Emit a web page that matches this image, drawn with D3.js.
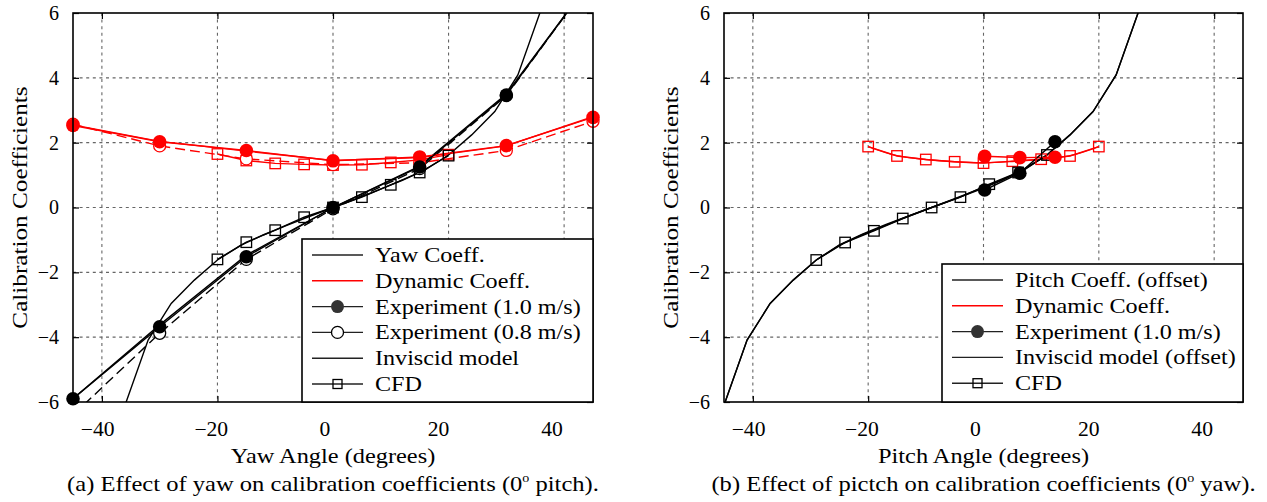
<!DOCTYPE html>
<html>
<head>
<meta charset="utf-8">
<script src="https://cdn.jsdelivr.net/npm/d3@7"></script>
<style>
  html, body { margin: 0; padding: 0; background: #fff; }
  svg text { font-family: "Liberation Serif", "Times New Roman", serif; fill: #000; }
</style>
</head>
<body>
<svg id="fig" width="1267" height="502"></svg>
<script>
// ---------------- axes ----------------
const xDomain = [-45, 45];
const yDomain = [-6, 6];
const xTicks = [-40, -20, 0, 20, 40];
const yTicks = [-6, -4, -2, 0, 2, 4, 6];

// ---------------- panel (a): yaw sweep, 0° pitch ----------------
const yawCoeffAngles = [-45, -30, -15, 0, 15, 30, 45];
const yawCoeffValues = [-5.9, -3.62, -1.47, 0, 1.28, 3.5, 7.1];

const yawDynCoeffAngles = [-45, -30, -15, 0, 15, 30, 45];
const yawDynCoeffValues = [2.55, 2.04, 1.74, 1.45, 1.54, 1.9, 2.8];

const yawExpAngles = [-45, -30, -15, 0, 15, 30, 45];
const yawExp10 = [-5.9, -3.68, -1.52, 0, 1.25, 3.47, 7.1];
const yawExp08 = [-6.4, -3.88, -1.6, -0.04, 1.2, 3.45, 7.1];
const yawDynExp10 = [2.53, 2.03, 1.76, 1.44, 1.56, 1.91, 2.78];
const yawDynExp08 = [2.57, 1.9, 1.5, 1.32, 1.38, 1.76, 2.66];

const yawInviscidAngles = [-36, -32, -28, -24, -20, -16, -12, -8, -4, 0, 4, 8, 12, 16, 20, 24, 28, 32, 36];
const yawInviscidValues = [-6.1, -4.09, -2.96, -2.24, -1.62, -1.17, -0.84, -0.55, -0.27, 0, 0.27, 0.55, 0.84, 1.17, 1.62, 2.24, 2.96, 4.09, 6.1];

const yawCfdAngles = [-20, -15, -10, -5, 0, 5, 10, 15, 20];
const yawCfdValues = [-1.6, -1.07, -0.7, -0.3, 0, 0.32, 0.7, 1.08, 1.6];
const yawCfdDynValues = [1.65, 1.45, 1.36, 1.33, 1.31, 1.32, 1.39, 1.47, 1.63];

// ---------------- panel (b): pitch sweep, 0° yaw ----------------
const pitchCoeffAngles = [-45, -41, -37, -33, -29, -25, -21, -17, -13, -9, -5, -1, 3, 7, 11, 15, 19, 23, 27];
const pitchCoeffValues = [-6.1, -4.09, -2.96, -2.24, -1.62, -1.17, -0.84, -0.55, -0.27, 0, 0.27, 0.55, 0.84, 1.17, 1.62, 2.24, 2.96, 4.09, 6.1];
const pitchInviscidValues = [-6.1, -4.09, -2.96, -2.24, -1.62, -1.15, -0.82, -0.53, -0.26, 0, 0.26, 0.53, 0.82, 1.15, 1.62, 2.24, 2.96, 4.09, 6.1];

const pitchDynCoeffAngles = [-20, -15, -10, -5, 0, 5, 10, 15, 20];
const pitchDynCoeffValues = [1.88, 1.6, 1.48, 1.41, 1.38, 1.42, 1.49, 1.6, 1.88];

const pitchExpAngles = [0.2, 6.3, 12.4];
const pitchExp10 = [0.54, 1.06, 2.03];
const pitchDynExp10 = [1.58, 1.54, 1.55];

const pitchCfdAngles = [-29, -24, -19, -14, -9, -4, 1, 6, 11];
const pitchCfdValues = [-1.62, -1.08, -0.72, -0.34, 0, 0.32, 0.72, 1.08, 1.62];
const pitchCfdDynAngles = [-20, -15, -10, -5, 0, 5, 10, 15, 20];
const pitchCfdDynValues = [1.88, 1.59, 1.48, 1.41, 1.37, 1.43, 1.49, 1.59, 1.88];

// ---------------- labels ----------------
const yTitle = "Calibration Coefficients";
const panels = [
  {
    id: "a", left: 73, right: 593,
    xTitle: "Yaw Angle (degrees)",
    caption: ["(a) Effect of yaw on calibration coefficients (0", "o", " pitch)."],
    legendBox: { x: 302, y: 239 },
    legend: [
      { label: "Yaw Coeff.", color: "#000" },
      { label: "Dynamic Coeff.", color: "#f00" },
      { label: "Experiment (1.0 m/s)", color: "#000", marker: "filled" },
      { label: "Experiment (0.8 m/s)", color: "#000", marker: "open" },
      { label: "Inviscid model", color: "#000" },
      { label: "CFD", color: "#000", marker: "square" }
    ],
    series: [
      { a: yawCfdAngles, v: yawCfdDynValues, color: "#f00", marker: "square" },
      { a: yawCfdAngles, v: yawCfdValues, color: "#000", marker: "square" },
      { a: yawDynCoeffAngles, v: yawDynCoeffValues, color: "#f00" },
      { a: yawCoeffAngles, v: yawCoeffValues, color: "#000" },
      { a: yawInviscidAngles, v: yawInviscidValues, color: "#000" },
      { a: yawExpAngles, v: yawDynExp08, color: "#f00", dash: true, marker: "open" },
      { a: yawExpAngles, v: yawExp08, color: "#000", dash: true, marker: "open" },
      { a: yawExpAngles, v: yawDynExp10, color: "#f00", marker: "filled" },
      { a: yawExpAngles, v: yawExp10, color: "#000", marker: "filled" }
    ]
  },
  {
    id: "b", left: 724, right: 1243,
    xTitle: "Pitch Angle (degrees)",
    caption: ["(b) Effect of pictch on calibration coefficients (0", "o", " yaw)."],
    legendBox: { x: 942, y: 264 },
    legend: [
      { label: "Pitch Coeff. (offset)", color: "#000" },
      { label: "Dynamic Coeff.", color: "#f00" },
      { label: "Experiment (1.0 m/s)", color: "#000", marker: "filled" },
      { label: "Inviscid model (offset)", color: "#000" },
      { label: "CFD", color: "#000", marker: "square" }
    ],
    series: [
      { a: pitchCfdDynAngles, v: pitchCfdDynValues, color: "#f00", marker: "square" },
      { a: pitchDynCoeffAngles, v: pitchDynCoeffValues, color: "#f00", smooth: true },
      { a: pitchCfdAngles, v: pitchCfdValues, color: "#000", marker: "square" },
      { a: pitchCoeffAngles, v: pitchCoeffValues, color: "#000" },
      { a: pitchCoeffAngles, v: pitchInviscidValues, color: "#000" },
      { a: pitchExpAngles, v: pitchDynExp10, color: "#f00", marker: "filled" },
      { a: pitchExpAngles, v: pitchExp10, color: "#000", marker: "filled" }
    ]
  }
];

// ---------------- drawing ----------------
const svg = d3.select("#fig");
const plotTop = 13, plotBottom = 402;
const rowGap = 25.8;

function drawMarker(g, kind, x, y, color, legend) {
  if (kind === "filled") {
    g.append("circle").attr("cx", x).attr("cy", y).attr("r", legend ? 6.5 : 6.8)
      .attr("fill", legend ? "#333" : color);
  } else if (kind === "open") {
    g.append("circle").attr("cx", x).attr("cy", y).attr("r", 6)
      .attr("fill", "#fff").attr("stroke", color).attr("stroke-width", 1.3);
  } else if (kind === "square") {
    const s = legend ? 9 : 10.5;
    g.append("rect").attr("x", x - s / 2).attr("y", y - s / 2)
      .attr("width", s).attr("height", s)
      .attr("fill", "none").attr("stroke", color).attr("stroke-width", 1.3);
  }
}

function stretchedText(g, x, y, str, size, anchor, sx, rot) {
  return g.append("text")
    .attr("transform", `translate(${x},${y})` + (rot ? ` rotate(${rot})` : "") + ` scale(${sx},1)`)
    .attr("text-anchor", anchor)
    .attr("font-size", size)
    .text(str);
}

panels.forEach(p => {
  const x = d3.scaleLinear().domain(xDomain).range([p.left, p.right]);
  const y = d3.scaleLinear().domain(yDomain).range([plotBottom, plotTop]);
  const g = svg.append("g");
  const cx = (p.left + p.right) / 2;

  // grid
  const grid = g.append("g").attr("stroke", "#666").attr("stroke-width", 1.1)
    .attr("stroke-dasharray", "3,3.6");
  grid.selectAll("line.v").data(xTicks).join("line").attr("class", "v")
    .attr("x1", d => x(d)).attr("x2", d => x(d)).attr("y1", plotTop).attr("y2", plotBottom);
  grid.selectAll("line.h").data(yTicks.filter(t => t > yDomain[0] && t < yDomain[1])).join("line").attr("class", "h")
    .attr("x1", p.left).attr("x2", p.right).attr("y1", d => y(d)).attr("y2", d => y(d));

  // axes with inward ticks on all four sides
  const axB = g.append("g").attr("transform", `translate(0,${plotBottom})`)
    .call(d3.axisBottom(x).tickValues(xTicks).tickFormat(d3.format("d")).tickSizeInner(-6).tickSizeOuter(0).tickPadding(20));
  const axT = g.append("g").attr("transform", `translate(0,${plotTop})`)
    .call(d3.axisTop(x).tickValues(xTicks).tickFormat("").tickSizeInner(-6).tickSizeOuter(0));
  const axL = g.append("g").attr("transform", `translate(${p.left},0)`)
    .call(d3.axisLeft(y).tickValues(yTicks).tickFormat(d3.format("d")).tickSizeInner(-6).tickSizeOuter(0).tickPadding(14));
  const axR = g.append("g").attr("transform", `translate(${p.right},0)`)
    .call(d3.axisRight(y).tickValues(yTicks).tickFormat("").tickSizeInner(-6).tickSizeOuter(0));
  [axB, axT, axL, axR].forEach(a => {
    a.select(".domain").remove();
    a.selectAll(".tick line").attr("stroke", "#000").attr("stroke-width", 1.2);
  });
  axB.selectAll(".tick text").attr("font-size", 20).attr("font-family", null)
    .attr("dx", d => -8 - d * 0.09)
    .attr("transform", "scale(1.08,1)");
  axL.selectAll(".tick text").attr("font-size", 20).attr("font-family", null);
  [axB, axL].forEach(a => a.selectAll(".tick text").attr("fill", "#000"));
  g.selectAll(".tick").attr("font-family", null);
  [axB, axT, axL, axR].forEach(a => a.attr("font-family", null).attr("font-size", null));

  // series
  const clipId = "clip-" + p.id;
  g.append("clipPath").attr("id", clipId).append("rect")
    .attr("x", p.left).attr("y", plotTop).attr("width", p.right - p.left).attr("height", plotBottom - plotTop);
  const lines = g.append("g").attr("clip-path", `url(#${clipId})`);
  p.series.forEach(s => {
    const pts = s.a.map((a, i) => [a, s.v[i]]);
    const line = d3.line().x(d => x(d[0])).y(d => y(d[1]))
      .curve(s.smooth ? d3.curveCatmullRom.alpha(0.5) : d3.curveLinear);
    lines.append("path").attr("d", line(pts))
      .attr("fill", "none").attr("stroke", s.color).attr("stroke-width", 1.4)
      .attr("stroke-dasharray", s.dash ? "10,5" : null);
  });
  const markers = g.append("g");
  ["square", "open", "filled"].forEach(kind => {
    p.series.filter(s => s.marker === kind).forEach(s => {
      s.a.forEach((a, i) => {
        const v = s.v[i];
        if (v < yDomain[0] - 0.25 || v > yDomain[1]) return;
        drawMarker(markers, kind, x(a), y(v), s.color, false);
      });
    });
  });

  // border
  g.append("rect").attr("x", p.left).attr("y", plotTop)
    .attr("width", p.right - p.left).attr("height", plotBottom - plotTop)
    .attr("fill", "none").attr("stroke", "#000").attr("stroke-width", 1.6);

  // legend
  const lb = p.legendBox;
  const lg = g.append("g");
  lg.append("rect").attr("x", lb.x).attr("y", lb.y)
    .attr("width", p.right - lb.x).attr("height", plotBottom - lb.y)
    .attr("fill", "#fff").attr("stroke", "#000").attr("stroke-width", 1.6);
  p.legend.forEach((e, i) => {
    const ry = lb.y + 16 + i * rowGap;
    const x0 = lb.x + 10, x1 = lb.x + 61;
    lg.append("line").attr("x1", x0).attr("x2", x1).attr("y1", ry).attr("y2", ry)
      .attr("stroke", e.color === "#000" ? "#222" : e.color).attr("stroke-width", 1.4);
    if (e.marker) drawMarker(lg, e.marker, (x0 + x1) / 2, ry, e.color, true);
    stretchedText(lg, lb.x + 73, ry + 7, e.label, 21, "start", 1.15);
  });

  // titles
  stretchedText(g, cx, 463, p.xTitle, 21, "middle", 1.16);
  stretchedText(g, p.left - 46, (plotTop + plotBottom) / 2, yTitle, 21, "middle", 1.2, -90);
  const cap = g.append("text")
    .attr("transform", `translate(${cx},491) scale(1.17,1)`)
    .attr("text-anchor", "middle").attr("font-size", 21);
  cap.append("tspan").text(p.caption[0]);
  cap.append("tspan").attr("font-size", 12).attr("dy", -9).text(p.caption[1]);
  cap.append("tspan").attr("dy", 9).text(p.caption[2]);
});
</script>
</body>
</html>
